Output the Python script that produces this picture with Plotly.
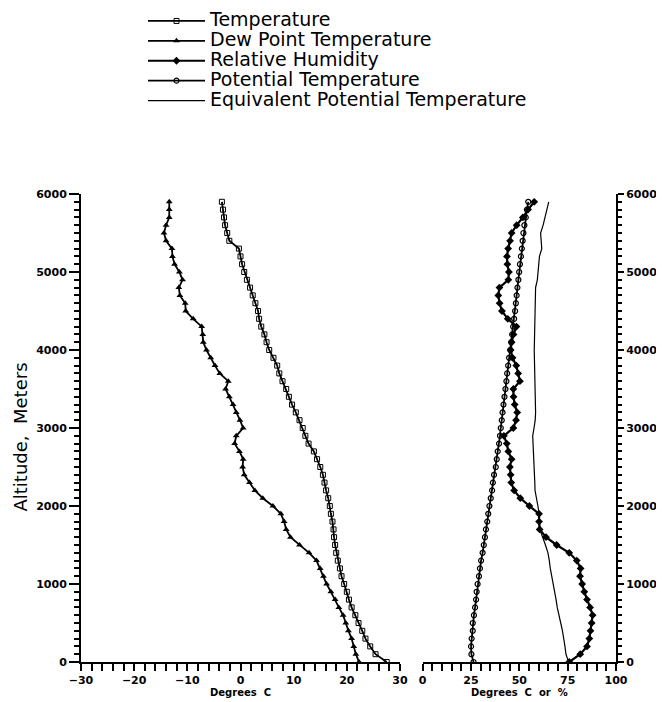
import plotly.graph_objects as go

altitude = list(range(0, 6000, 100))

temperature = [27.5, 25.4, 24.4, 23.5, 22.9, 22.2, 21.6, 20.9, 20.4, 20.0,
               19.5, 19.0, 18.7, 18.3, 18.0, 17.8, 17.6, 17.5, 17.3, 17.0,
               16.8, 16.5, 16.1, 15.8, 15.5, 15.0, 14.4, 13.8, 12.8, 12.2,
               11.7, 11.1, 10.4, 9.7, 9.1, 8.6, 7.9, 7.3, 6.9, 6.2,
               5.4, 4.9, 4.5, 3.9, 3.5, 3.3, 2.8, 2.3, 1.8, 1.2,
               0.7, 0.3, 0.0, -0.3, -2.1, -2.5, -2.9, -3.1, -3.3, -3.5]

dew_point = [22.3, 21.7, 21.3, 20.9, 20.3, 19.8, 19.3, 18.5, 17.8, 17.0,
             16.2, 15.6, 15.0, 14.3, 12.9, 11.1, 9.4, 8.6, 8.2, 7.6,
             6.1, 4.2, 2.7, 1.7, 0.7, 0.4, 0.5, -0.2, -1.1, -0.8,
             0.5, -0.1, -0.8, -1.4, -2.1, -2.8, -2.3, -3.9, -4.8, -5.6,
             -6.4, -7.0, -7.1, -7.3, -8.9, -10.3, -10.4, -11.4, -11.6, -10.9,
             -11.5, -12.4, -12.8, -12.9, -14.0, -14.4, -14.0, -13.4, -13.4, -13.4]

relative_humidity = [75.8, 81.5, 85.0, 86.2, 86.8, 87.4, 87.9, 86.6, 85.0, 83.6,
                     82.5, 81.4, 81.7, 79.7, 75.8, 69.3, 63.8, 60.5, 60.2, 60.2,
                     55.2, 50.5, 47.3, 45.8, 45.5, 45.1, 46.0, 44.3, 43.5, 42.0,
                     46.9, 48.3, 48.9, 47.6, 47.0, 46.9, 50.3, 49.4, 48.4, 46.5,
                     45.5, 46.0, 47.0, 48.5, 44.0, 41.0, 39.8, 39.1, 39.7, 44.3,
                     44.6, 43.8, 43.6, 44.2, 45.2, 46.0, 48.6, 51.8, 54.5, 57.7]

potential_temperature = [26.3, 25.2, 25.0, 25.3, 25.9, 25.9, 26.5, 27.1, 27.6, 27.9,
                         28.4, 29.1, 29.6, 30.2, 31.0, 31.6, 32.2, 32.7, 33.4, 33.9,
                         34.5, 35.2, 35.9, 36.3, 36.9, 37.8, 38.3, 38.8, 39.5, 40.0,
                         40.4, 40.9, 41.3, 41.8, 42.3, 42.8, 43.3, 43.7, 44.2, 44.7,
                         45.3, 45.8, 46.3, 46.8, 47.3, 47.8, 48.2, 48.6, 49.0, 49.5,
                         49.9, 50.3, 50.8, 51.3, 51.7, 52.1, 52.6, 53.3, 53.9, 54.6]

equivalent_potential_temperature = [75.5, 74.1, 73.6, 73.0, 72.3, 71.4, 70.4, 69.6, 69.0, 68.2,
                                    67.3, 66.5, 66.0, 65.5, 64.8, 63.5, 61.9, 60.6, 60.3, 60.2,
                                    59.6, 58.8, 58.1, 58.0, 57.8, 57.6, 57.5, 57.2, 56.9, 56.9,
                                    57.6, 58.2, 58.4, 58.3, 58.1, 58.0, 57.9, 57.8, 57.7, 57.6,
                                    57.7, 57.8, 57.9, 58.0, 58.1, 58.2, 58.2, 58.3, 58.4, 59.3,
                                    59.6, 60.0, 60.4, 61.6, 61.3, 61.0, 62.3, 63.3, 64.2, 65.2]

series_names = ["Temperature", "Dew Point Temperature", "Relative Humidity",
                "Potential Temperature", "Equivalent Potential Temperature"]

left_ticks = [-30, -20, -10, 0, 10, 20, 30]
right_ticks = [0, 25, 50, 75, 100]
alt_ticks = [0, 1000, 2000, 3000, 4000, 5000, 6000]

FONT = "DejaVu Sans"
BLACK = "black"


def legend_name(s):
    return '<span style="font-size:19px">' + s + '</span>'


fig = go.Figure()

fig.add_trace(go.Scatter(
    x=temperature, y=altitude, xaxis="x", yaxis="y", name=legend_name(series_names[0]),
    mode="lines+markers", line=dict(color=BLACK, width=1.8),
    marker=dict(symbol="square-open", size=5, color=BLACK, line=dict(width=1))))
fig.add_trace(go.Scatter(
    x=dew_point, y=altitude, xaxis="x", yaxis="y", name=legend_name(series_names[1]),
    mode="lines+markers", line=dict(color=BLACK, width=1.8),
    marker=dict(symbol="triangle-up", size=6, color=BLACK)))
fig.add_trace(go.Scatter(
    x=relative_humidity, y=altitude, xaxis="x2", yaxis="y2", name=legend_name(series_names[2]),
    mode="lines+markers", line=dict(color=BLACK, width=2.2),
    marker=dict(symbol="diamond", size=6, color=BLACK)))
fig.add_trace(go.Scatter(
    x=potential_temperature, y=altitude, xaxis="x2", yaxis="y2", name=legend_name(series_names[3]),
    mode="lines+markers", line=dict(color=BLACK, width=1.8),
    marker=dict(symbol="circle-open", size=5, color=BLACK, line=dict(width=1.2))))
fig.add_trace(go.Scatter(
    x=equivalent_potential_temperature, y=altitude, xaxis="x2", yaxis="y2",
    name=legend_name(series_names[4]),
    mode="lines", line=dict(color=BLACK, width=1.2)))

# page body has an 8px margin; figure is sized/placed to compensate
W, H = 648, 694
ml, mr, mt, mb = 73, 40, 186, 40
pw = W - ml - mr
ph = H - mt - mb
d1 = (392 - ml) / pw
d2 = (414.7 - ml) / pw

tickfont = dict(family=FONT, size=11, color=BLACK, weight="bold")

common_x = dict(showgrid=False, zeroline=False, showline=True, linecolor=BLACK, linewidth=2,
                ticks="outside", ticklen=7, tickwidth=1.5, tickcolor=BLACK,
                tickfont=tickfont, mirror=False, automargin=False)

fig.update_layout(
    width=W, height=H,
    margin=dict(l=ml, r=mr, t=mt, b=mb, autoexpand=False),
    paper_bgcolor="white", plot_bgcolor="white",
    showlegend=True,
    legend=dict(x=(135 - ml) / pw, y=1 + (mt + 2) / ph,
                xanchor="left", yanchor="top", itemwidth=57,
                font=dict(family=FONT, size=13, color=BLACK),
                bgcolor="rgba(0,0,0,0)", borderwidth=0, tracegroupgap=0),
    xaxis=dict(domain=[0, d1], range=[-30, 30], tickvals=left_ticks,
               minor=dict(dtick=2, ticks="outside", ticklen=7, tickwidth=1.5, tickcolor=BLACK),
               title=dict(text="<b>Degrees  C</b>", font=dict(family=FONT, size=10, color=BLACK), standoff=0),
               anchor="y", **common_x),
    xaxis2=dict(domain=[d2, 1], range=[0, 100], tickvals=right_ticks,
                minor=dict(dtick=5, ticks="outside", ticklen=7, tickwidth=1.5, tickcolor=BLACK),
                title=dict(text="<b>Degrees  C  or  %</b>", font=dict(family=FONT, size=10, color=BLACK), standoff=0),
                anchor="y2", **common_x),
    yaxis=dict(domain=[0, 1], range=[0, 6000], tickvals=alt_ticks, anchor="x", side="left",
               showgrid=False, zeroline=False, showline=True, linecolor=BLACK, linewidth=2,
               ticks="outside", ticklen=10, tickwidth=1.5, tickcolor=BLACK, tickfont=tickfont,
               automargin=False,
               minor=dict(dtick=100, ticks="outside", ticklen=5, tickwidth=1.5, tickcolor=BLACK)),
    yaxis2=dict(domain=[0, 1], range=[0, 6000], tickvals=alt_ticks, anchor="x2", side="right",
                showgrid=False, zeroline=False, showline=True, linecolor=BLACK, linewidth=2,
                ticks="outside", ticklen=6, tickwidth=1.5, tickcolor=BLACK, tickfont=tickfont,
                automargin=False,
                minor=dict(dtick=100, ticks="outside", ticklen=4, tickwidth=1.5, tickcolor=BLACK)),
    annotations=[dict(text="Altitude,  Meters", textangle=-90, showarrow=False,
                      xref="paper", yref="paper", x=(12 - ml) / pw, y=1 - (429.5 - mt) / ph,
                      xanchor="center", yanchor="middle",
                      font=dict(family=FONT, size=18, color=BLACK))],
)

fig.write_html("out.html")
